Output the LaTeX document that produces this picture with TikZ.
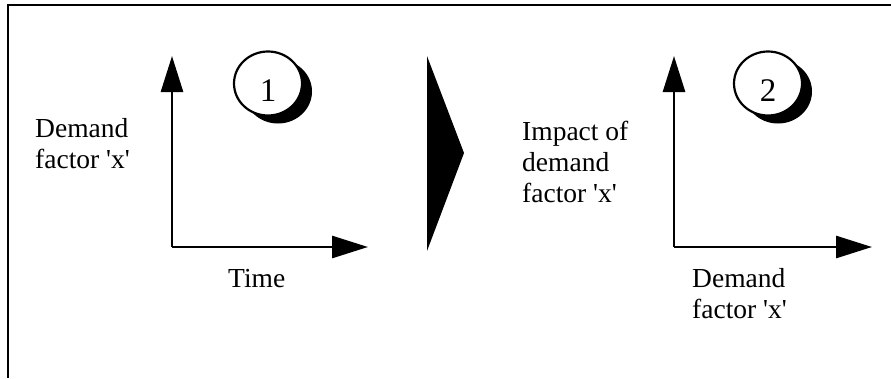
\documentclass[tikz,border=0pt]{standalone}
\usepackage{fontspec}
\setmainfont{Liberation Serif}
\usetikzlibrary{arrows.meta,shapes.geometric}
\newcommand{\sq}{\textquotesingle}
\tikzset{
  frameline/.style={line width=2.2pt},
  axis/.style={line width=2.8pt,-{Triangle[length=36pt,width=22pt]}},
  lbl/.style={font={\fontsize{27.5}{31}\selectfont},align=left,inner sep=0pt},
  disc/.style={ellipse,draw,line width=2.2pt,fill=white,minimum width=68pt,minimum height=64pt,inner sep=0pt},
  discshadow/.style={ellipse,fill=black,minimum width=68pt,minimum height=64pt,inner sep=0pt},
  numfont/.style={font={\fontsize{33}{36}\selectfont},inner sep=0pt}
}
\begin{document}
\begin{tikzpicture}[x=1pt,y=-1pt]
\useasboundingbox (0,0) rectangle (891,378);
% frame
\coordinate (ftl) at (8,5);
\coordinate (ftr) at (891,5);
\coordinate (fbl) at (8,378);
\draw[frameline] (ftr) -- (ftl) -- (fbl);
% axes 1
\coordinate (o1) at (172,247);
\coordinate (y1) at (172,56);
\coordinate (x1) at (368,247);
\draw[axis] (o1) -- (y1);
\draw[axis] (o1) -- (x1);
% axes 2
\coordinate (o2) at (674,247);
\coordinate (y2) at (674,56);
\coordinate (x2) at (872,247);
\draw[axis] (o2) -- (y2);
\draw[axis] (o2) -- (x2);
% big arrow
\coordinate (t1) at (427,56);
\coordinate (t2) at (464,153);
\coordinate (t3) at (427,251);
\fill (t1) -- (t2) -- (t3) -- cycle;
% discs
\node[discshadow] (s1) at (278,91.5) {};
\node[disc,label={[numfont,yshift=-7pt]center:1}] (c1) at (268,83.5) {};
\node[discshadow] (s2) at (778,91.5) {};
\node[disc,label={[numfont,yshift=-7pt]center:2}] (c2) at (768,83.5) {};
% labels
\node[lbl,anchor=north west] (l1) at (35,118) {Demand\\factor \sq x\sq};
\node[lbl,anchor=base west] (l2) at (228,287.3) {Time};
\node[lbl,anchor=north west] (l3) at (522,120.5) {Impact of\\demand\\factor \sq x\sq};
\node[lbl,anchor=north west] (l4) at (692,268.5) {Demand\\factor \sq x\sq};
\end{tikzpicture}
\end{document}
